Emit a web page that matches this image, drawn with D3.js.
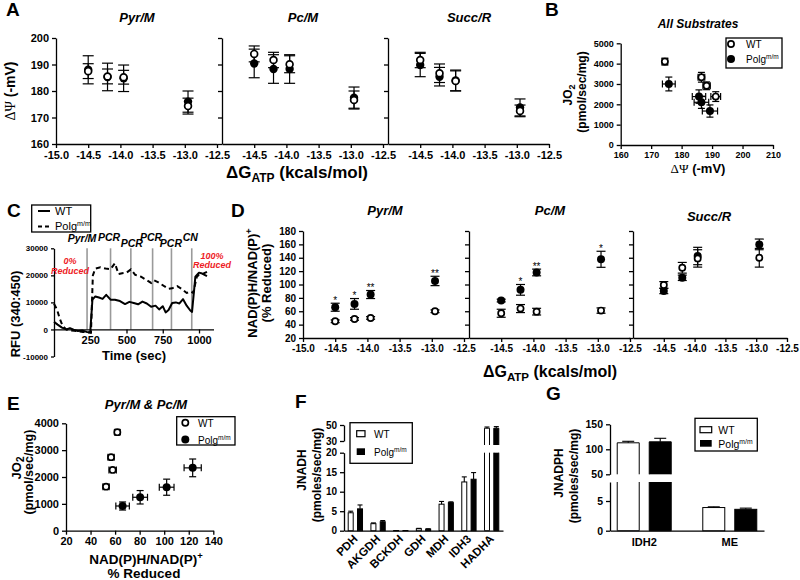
<!DOCTYPE html>
<html><head><meta charset="utf-8">
<script src="https://cdn.jsdelivr.net/npm/d3@7"></script>
<style>body{margin:0;background:#fff}</style>
</head><body>
<script>
// ================= DATA =================
// Panel A
const dGatp = [-14.5, -14.2, -13.95, -12.95];
const substrates = ["Pyr/M", "Pc/M", "Succ/R"];
const aTicksX = [-15, -14.5, -14, -13.5, -13, -12.5];
const aTicksY = [160, 170, 180, 190, 200];
const psiWT = [[187.5,185.5,185.2,174.3],[194,191.7,190.1,176.6],[191.7,186.7,183.8,172.5]];
const psiWTerr = [[2.8,2.8,2.6,3],[3,2.9,3.2,3.4],[2.9,3.5,3.8,2.2]];
const psiPolg = [[188,185.3,184.8,176],[190.4,188.3,188.3,177.5],[189.8,185.4,184,173.8]];
const psiPolgErr = [[5.3,5.2,5,4],[5.4,5.4,5.4,4],[4.4,3.5,3.9,3.2]];
// Panel B
const bTicksX = [160,170,180,190,200,210];
const bTicksY = [0,1000,2000,3000,4000,5000];
const bWTpsi = [174.5,186.5,188.2,191.2];
const bWTpsiErr = [0.9,1.1,1.2,1.6];
const bWTjo2 = [4100,3330,2910,2380];
const bWTjo2Err = [170,240,190,240];
const bPolgPsi = [175.8,185.7,186.5,189.3];
const bPolgPsiErr = [2.1,2.2,2.4,2.5];
const bPolgJo2 = [3000,2380,2100,1670];
const bPolgJo2Err = [340,330,300,300];
// Panel C
const cTicksX = [250,500,750,1000];
const cTicksY = [-10000,0,10000,20000,30000];
const cEvents = [228,390,530,680,810,950];
const cEventLabels = ["Pyr/M","PCR","PCR","PCR","PCR","CN"];
const cTimeWT = [0,25,55,85,110,135,165,195,225,250,265,285,310,335,360,390,420,455,490,520,550,580,610,640,670,700,725,750,770,790,815,840,865,890,915,940,952,975,1000,1015,1055];
const cRfuWT  = [2800,1800,700,0,500,-100,-600,-400,-900,-1000,11000,12200,11800,11300,12800,11000,11000,10500,9400,10200,9800,9300,10300,9600,8400,8800,7400,8600,6300,7200,9800,10000,9600,11200,8800,7000,6500,19500,21000,20800,19700];
const cTimePolg = [0,20,40,60,85,110,140,170,200,230,255,268,285,320,355,390,420,445,470,500,530,560,600,640,670,690,720,760,790,815,850,880,915,945,960,985,1000,1015,1055];
const cRfuPolg  = [9500,7500,4000,1200,0,-300,-500,-700,-900,-1100,-1200,20000,22500,23000,22500,22300,24500,20500,20800,21000,22200,20200,19500,18200,17200,18200,17400,16000,15000,15200,16000,15000,13500,14000,13500,19500,20200,20300,21300];
// Panel D
const dTicksY = [20,40,60,80,100,120,140,160,180];
const nadWT = [[45,48.5,50,60],[57,64,59.4,61],[99.3,125,139,140]];
const nadWTerr = [[2,2,2,2],[6,6,5,4],[5,8,13,14]];
const nadPolg = [[66,71,85,105.3],[76,92,118,137.7],[90.3,110,142.6,160]];
const nadPolgErr = [[6,8,6,7],[2,8,5,12],[4,4,13,8]];
const nadStars = [["*","*","**","**"],["","*","**","*"],["","","",""]];
// Panel E
const eTicksX = [20,40,60,80,100,120,140];
const eTicksY = [0,1000,2000,3000,4000];
const eWTnad = [52.6,58,56.7,61.8];
const eWTnadErr = [2.5,3,2.5,2];
const eWTjo2 = [1640,2265,2740,3670];
const eWTjo2Err = [60,60,70,90];
const ePolgNad = [66.1,80.4,102,123.2];
const ePolgNadErr = [5.5,6,6,7];
const ePolgJo2 = [920,1245,1620,2340];
const ePolgJo2Err = [150,250,300,330];
// Panel F
const fCats = ["PDH","AKGDH","BCKDH","GDH","MDH","IDH3","HADHA"];
const fWT = [4.6,1.8,0.05,0.5,6.8,12.5,46];
const fWTerr = [0.4,0.2,0,0.1,0.7,1.3,1.5];
const fPolg = [5.6,2.3,0.05,0.4,7.2,13.2,46];
const fPolgErr = [1.0,0.3,0,0.1,0.2,1.7,2];
const fTicksLow = [0,5,10,15,20];
const fTicksHigh = [30,50];
// Panel G
const gCats = ["IDH2","ME"];
const gWT = [113,3.9];
const gWTerr = [3,0.12];
const gPolg = [115,3.6];
const gPolgErr = [7,0.2];
const gTicksLow = [0,5];
const gTicksHigh = [50,100,150];

// ================= HELPERS =================
const FONT = "'Liberation Sans', Arial, Helvetica, sans-serif";
const plain = d => String(d);
const svg = d3.select("body").append("svg").attr("width",800).attr("height",580).attr("font-family",FONT);
svg.append("rect").attr("width",800).attr("height",580).attr("fill","#fff");

function styleAxis(g, size){
  g.attr("font-family",FONT).attr("font-size",size).attr("font-weight","bold");
  g.selectAll("path,line").attr("stroke","#000").attr("stroke-width",1.3);
  g.selectAll("text").attr("fill","#000");
  return g;
}
function rich(x, y, parts, o={}){
  const t = svg.append("text").attr("x",x).attr("y",y)
    .attr("font-size",o.size||12).attr("font-weight",o.weight||"bold")
    .attr("font-style",o.style||"normal").attr("text-anchor",o.anchor||"middle")
    .attr("fill",o.fill||"#000").attr("font-family",FONT);
  if(o.rotate) t.attr("transform",`rotate(${o.rotate},${x},${y})`);
  let shift = 0;
  parts.forEach(p=>{
    const s = t.append("tspan").text(p.t);
    let target = p.sub ? p.sub : (p.sup ? -p.sup : 0);
    s.attr("dy", target - shift); shift = target;
    if(p.size) s.attr("font-size",p.size);
    if(p.family) s.attr("font-family",p.family);
    if(p.weight) s.attr("font-weight",p.weight);
  });
  return t;
}
function ln(x1,y1,x2,y2,w=1.2,col="#000"){
  svg.append("line").attr("x1",x1).attr("y1",y1).attr("x2",x2).attr("y2",y2).attr("stroke",col).attr("stroke-width",w);
}
function vErr(cx,yTop,yBot,cap){ ln(cx,yTop,cx,yBot); ln(cx-cap,yTop,cx+cap,yTop); ln(cx-cap,yBot,cx+cap,yBot); }
function hErr(cy,xL,xR,cap){ ln(xL,cy,xR,cy); ln(xL,cy-cap,xL,cy+cap); ln(xR,cy-cap,xR,cy+cap); }
function dot(cx,cy,filled,r){
  svg.append("circle").attr("cx",cx).attr("cy",cy).attr("r",filled?r+0.7:r)
    .attr("fill",filled?"#000":"#fff").attr("stroke","#000").attr("stroke-width",filled?0:1.7);
}
function panelLabel(x,y,s){ rich(x,y,[{t:s}],{size:19,anchor:"start"}); }
function box(x0,y0,x1,y1){ svg.append("rect").attr("x",x0).attr("y",y0).attr("width",x1-x0).attr("height",y1-y0).attr("fill","#fff").attr("stroke","#000").attr("stroke-width",1.3); }
const polgParts = (sz)=>[{t:"Polg"},{t:"m/m",sup:4,size:sz*0.65}];

// ================= PANEL A =================
panelLabel(6,16,"A");
const aRanges = [[56,217],[222,383],[388,549]];
const aTitleX = [137,303,469];
const ay = d3.scaleLinear().domain([160,200]).range([144,38]);
substrates.forEach((s,i)=>{
  const ax = d3.scaleLinear().domain([-15,-12.5]).range(aRanges[i]);
  styleAxis(svg.append("g").attr("transform","translate(0,144)")
    .call(d3.axisBottom(ax).tickValues(i===0?aTicksX:aTicksX.slice(1)).tickSize(4).tickSizeOuter(0).tickFormat(d=>d.toFixed(1))), 11);
  styleAxis(svg.append("g").attr("transform",`translate(${aRanges[i][0]},0)`)
    .call(d3.axisLeft(ay).tickValues(aTicksY).tickSize(4).tickSizeOuter(0).tickFormat(i===0?plain:(()=>""))), 11);
  rich(aTitleX[i],22,[{t:s}],{size:13,style:"italic"});
  dGatp.forEach((g,j)=>{
    const cx = ax(g);
    vErr(cx, ay(psiPolg[i][j]+psiPolgErr[i][j]), ay(psiPolg[i][j]-psiPolgErr[i][j]), 5.5);
    vErr(cx, ay(psiWT[i][j]+psiWTerr[i][j]), ay(psiWT[i][j]-psiWTerr[i][j]), 5.5);
  });
  dGatp.forEach((g,j)=> dot(ax(g), ay(psiPolg[i][j]), true, 3.5));
  dGatp.forEach((g,j)=> dot(ax(g), ay(psiWT[i][j]), false, 3.4));
});
rich(15,91,[{t:"ΔΨ",family:"'Liberation Serif','DejaVu Serif',serif",weight:"normal"},{t:" (-mV)"}],{size:14,rotate:-90});
rich(297,178,[{t:"ΔG"},{t:"ATP",sub:4,size:12},{t:" (kcals/mol)"}],{size:17});

// ================= PANEL B =================
panelLabel(545,16,"B");
const bx = d3.scaleLinear().domain([160,210]).range([620.7,773]);
const by = d3.scaleLinear().domain([0,5000]).range([145,43.3]);
styleAxis(svg.append("g").attr("transform","translate(0,145)")
  .call(d3.axisBottom(bx).tickValues(bTicksX).tickSize(4).tickSizeOuter(0).tickFormat(plain)), 9);
styleAxis(svg.append("g").attr("transform","translate(620.7,0)")
  .call(d3.axisLeft(by).tickValues(bTicksY).tickSize(4).tickSizeOuter(0).tickFormat(plain)), 9);
rich(698,28,[{t:"All Substrates"}],{size:12,style:"italic"});
bWTpsi.forEach((v,j)=>{
  vErr(bx(v), by(bWTjo2[j]+bWTjo2Err[j]), by(bWTjo2[j]-bWTjo2Err[j]), 3.5);
  hErr(by(bWTjo2[j]), bx(v-bWTpsiErr[j]), bx(v+bWTpsiErr[j]), 3.5);
});
bPolgPsi.forEach((v,j)=>{
  vErr(bx(v), by(bPolgJo2[j]+bPolgJo2Err[j]), by(bPolgJo2[j]-bPolgJo2Err[j]), 3.5);
  hErr(by(bPolgJo2[j]), bx(v-bPolgPsiErr[j]), bx(v+bPolgPsiErr[j]), 3.5);
});
bPolgPsi.forEach((v,j)=> dot(bx(v), by(bPolgJo2[j]), true, 3.3));
bWTpsi.forEach((v,j)=> dot(bx(v), by(bWTjo2[j]), false, 3.1));
rich(572,95,[{t:"JO"},{t:"2",sub:3,size:9}],{size:12,rotate:-90});
rich(586,92,[{t:"(pmol/sec/mg)"}],{size:12,rotate:-90});
rich(698,173,[{t:"ΔΨ",family:"'Liberation Serif','DejaVu Serif',serif",weight:"normal"},{t:" (-mV)"}],{size:13});
box(726,38,782,68);
dot(731,44,false,3.1); rich(746,48,[{t:"WT"}],{size:10,weight:"normal",anchor:"start"});
dot(731,59,true,3.3); rich(746,63,polgParts(10),{size:10,weight:"normal",anchor:"start"});

// ================= PANEL C =================
panelLabel(7,217,"C");
const cx = d3.scaleLinear().domain([0,1100]).range([54,213.5]);
const cy = d3.scaleLinear().domain([-10000,30000]).range([356.5,248.3]);
cEvents.forEach(t=> ln(cx(t), cy(30000), cx(t), cy(0), 1.6, "#9a9a9a"));
styleAxis(svg.append("g").attr("transform",`translate(0,${cy(0)})`)
  .call(d3.axisBottom(cx).tickValues(cTicksX).tickSize(4).tickSizeOuter(0).tickFormat(plain)), 11);
styleAxis(svg.append("g").attr("transform","translate(54,0)")
  .call(d3.axisLeft(cy).tickValues(cTicksY).tickSize(3).tickSizeOuter(0).tickFormat(plain)), 8);
const cLine = d3.line().x(d=>cx(d[0])).y(d=>cy(d[1]));
svg.append("path").datum(cTimeWT.map((t,i)=>[t,cRfuWT[i]])).attr("d",cLine)
  .attr("fill","none").attr("stroke","#000").attr("stroke-width",2).attr("stroke-linejoin","round");
svg.append("path").datum(cTimePolg.map((t,i)=>[t,cRfuPolg[i]])).attr("d",cLine)
  .attr("fill","none").attr("stroke","#000").attr("stroke-width",2).attr("stroke-dasharray","5,3.5");
const cLabOff = [-5,-1.5,1,-1.5,-0.5,-1.5];
const cLabY = [242,240.5,247,240.5,247,240.5];
cEvents.forEach((t,i)=> rich(cx(t)+cLabOff[i], cLabY[i], [{t:cEventLabels[i]}], {size:10.5,style:"italic"}));
rich(70,264,[{t:"0%"}],{size:9,style:"italic",fill:"#ee1c25"});
rich(70,274,[{t:"Reduced"}],{size:9,style:"italic",fill:"#ee1c25"});
rich(212,259,[{t:"100%"}],{size:9,style:"italic",fill:"#ee1c25"});
rich(212,268,[{t:"Reduced"}],{size:9,style:"italic",fill:"#ee1c25"});
rich(20,314,[{t:"RFU (340:450)"}],{size:13,rotate:-90});
rich(134,360,[{t:"Time (sec)"}],{size:13});
box(31.7,205,90.7,232);
ln(38,211,50,211,2);
rich(55,215,[{t:"WT"}],{size:11,weight:"normal",anchor:"start"});
svg.append("line").attr("x1",38).attr("y1",226.5).attr("x2",50).attr("y2",226.5).attr("stroke","#000").attr("stroke-width",2).attr("stroke-dasharray","4,3");
rich(55,230,polgParts(11),{size:11,weight:"normal",anchor:"start"});

// ================= PANEL D =================
panelLabel(231,217,"D");
const dRanges = [[303,464],[469,630],[633,787]];
const dTitleX = [385,550,709];
const dTitleY = [215,215,221];
const dy = d3.scaleLinear().domain([20,180]).range([338,231]);
substrates.forEach((s,i)=>{
  const dx = d3.scaleLinear().domain([-15,-12.5]).range(dRanges[i]);
  styleAxis(svg.append("g").attr("transform","translate(0,338)")
    .call(d3.axisBottom(dx).tickValues(i===0?aTicksX:aTicksX.slice(1)).tickSize(4).tickSizeOuter(0).tickFormat(d=>d.toFixed(1))), 10);
  styleAxis(svg.append("g").attr("transform",`translate(${dRanges[i][0]},0)`)
    .call(d3.axisLeft(dy).tickValues(dTicksY).tickSize(4).tickSizeOuter(0).tickFormat(i===0?plain:(()=>""))), 10);
  rich(dTitleX[i],dTitleY[i],[{t:s}],{size:13,style:"italic"});
  dGatp.forEach((g,j)=>{
    const px = dx(g);
    vErr(px, dy(nadPolg[i][j]+nadPolgErr[i][j]), dy(nadPolg[i][j]-nadPolgErr[i][j]), 4.5);
    vErr(px, dy(nadWT[i][j]+nadWTerr[i][j]), dy(nadWT[i][j]-nadWTerr[i][j]), 4.5);
    if(nadStars[i][j]) rich(px, dy(nadPolg[i][j]+nadPolgErr[i][j])+0.5, [{t:nadStars[i][j]}], {size:10,weight:"normal"});
  });
  dGatp.forEach((g,j)=> dot(dx(g), dy(nadPolg[i][j]), true, 3.3));
  dGatp.forEach((g,j)=> dot(dx(g), dy(nadWT[i][j]), false, 3.1));
});
rich(257,283,[{t:"NAD(P)H/NAD(P)"},{t:"+",sup:5,size:9}],{size:13,rotate:-90});
rich(271,283,[{t:"(% Reduced)"}],{size:13,rotate:-90});
rich(550,377,[{t:"ΔG"},{t:"ATP",sub:4,size:11.5},{t:" (kcals/mol)"}],{size:16});

// ================= PANEL E =================
panelLabel(7,410,"E");
const ex = d3.scaleLinear().domain([20,140]).range([66,213.3]);
const ey = d3.scaleLinear().domain([0,4000]).range([530.7,423.3]);
styleAxis(svg.append("g").attr("transform","translate(0,530.7)")
  .call(d3.axisBottom(ex).tickValues(eTicksX).tickSize(4).tickSizeOuter(0).tickFormat(plain)), 11);
styleAxis(svg.append("g").attr("transform","translate(66,0)")
  .call(d3.axisLeft(ey).tickValues(eTicksY).tickSize(4).tickSizeOuter(0).tickFormat(plain)), 11);
rich(146,409,[{t:"Pyr/M & Pc/M"}],{size:13,style:"italic"});
eWTnad.forEach((v,j)=>{
  vErr(ex(v), ey(eWTjo2[j]+eWTjo2Err[j]), ey(eWTjo2[j]-eWTjo2Err[j]), 3.5);
  hErr(ey(eWTjo2[j]), ex(v-eWTnadErr[j]), ex(v+eWTnadErr[j]), 3.5);
});
ePolgNad.forEach((v,j)=>{
  vErr(ex(v), ey(ePolgJo2[j]+ePolgJo2Err[j]), ey(ePolgJo2[j]-ePolgJo2Err[j]), 3.5);
  hErr(ey(ePolgJo2[j]), ex(v-ePolgNadErr[j]), ex(v+ePolgNadErr[j]), 3.5);
});
ePolgNad.forEach((v,j)=> dot(ex(v), ey(ePolgJo2[j]), true, 3.3));
eWTnad.forEach((v,j)=> dot(ex(v), ey(eWTjo2[j]), false, 3.1));
rich(21,468,[{t:"JO"},{t:"2",sub:3,size:10}],{size:13,rotate:-90});
rich(33,472,[{t:"(pmol/sec/mg)"}],{size:12.5,rotate:-90});
rich(146,564,[{t:"NAD(P)H/NAD(P)"},{t:"+",sup:5,size:9.5}],{size:13.5});
rich(144,578,[{t:"% Reduced"}],{size:13.5});
box(176.7,416.7,235,445);
dot(185.3,422.8,false,3.1); rich(198,427,[{t:"WT"}],{size:10,weight:"normal",anchor:"start"});
dot(185.3,439.5,true,3.3); rich(198,443.5,polgParts(10),{size:10,weight:"normal",anchor:"start"});

// ================= PANEL F =================
panelLabel(295,408,"F");
const fx = d3.scaleBand().domain(fCats).range([344,503]).paddingInner(0).paddingOuter(0);
const fyL = d3.scaleLinear().domain([0,20]).range([530.7,452.7]);
const fyU = d3.scaleLinear().domain([30,50]).range([441,425]);
const fBreakBottomU = 445;
styleAxis(svg.append("g").attr("transform","translate(344,0)")
  .call(d3.axisLeft(fyL).tickValues(fTicksLow).tickSize(4).tickSizeOuter(0)), 10);
styleAxis(svg.append("g").attr("transform","translate(344,0)")
  .call(d3.axisLeft(fyU).tickValues(fTicksHigh).tickSize(4).tickSizeOuter(0)), 10);
const fxAxis = styleAxis(svg.append("g").attr("transform","translate(0,530.7)")
  .call(d3.axisBottom(fx).tickSize(0).tickSizeOuter(0)), 11.5);
fxAxis.selectAll("text").attr("text-anchor","end").attr("dy",null).attr("y",0)
  .attr("transform","translate(3,9) rotate(-45)");
function brokenBar(x0,w,v,filled,yL,yU,lowMax,highMin,upBottom){
  const col = filled?"#000":"#fff";
  if(v<=lowMax){
    svg.append("rect").attr("x",x0).attr("y",yL(v)).attr("width",w).attr("height",Math.max(0.3,yL(0)-yL(v)))
      .attr("fill",col).attr("stroke","#000").attr("stroke-width",1);
  } else {
    svg.append("path").attr("d",`M${x0},${yL(lowMax)}V${yL(0)}H${x0+w}V${yL(lowMax)}`).attr("fill",col).attr("stroke","#000").attr("stroke-width",1);
    svg.append("path").attr("d",`M${x0},${upBottom}V${yU(v)}H${x0+w}V${upBottom}`).attr("fill",col).attr("stroke","#000").attr("stroke-width",1);
  }
}
function barErr(cx,v,e,yL,yU,lowMax,cap){
  if(!e) return;
  const s = v<=lowMax?yL:yU;
  ln(cx,s(v),cx,s(v+e),1.1); ln(cx-cap,s(v+e),cx+cap,s(v+e),1.1);
}
fCats.forEach((c,i)=>{
  const bw = fx.bandwidth(), cc = fx(c)+bw/2;
  const w = bw*0.22, g = bw*0.095;
  brokenBar(cc-g-w,w,fWT[i],false,fyL,fyU,20,30,fBreakBottomU);
  brokenBar(cc+g,w,fPolg[i],true,fyL,fyU,20,30,fBreakBottomU);
  barErr(cc-g-w/2,fWT[i],fWTerr[i],fyL,fyU,20,w/2);
  barErr(cc+g+w/2,fPolg[i],fPolgErr[i],fyL,fyU,20,w/2);
});
rich(306,470,[{t:"J"},{t:"NADH"}],{size:12,rotate:-90});
rich(321,475,[{t:"(pmoles/sec/mg)"}],{size:12,rotate:-90});
box(350,422.7,412.3,463.3);
svg.append("rect").attr("x",356.7).attr("y",430.7).attr("width",8.3).attr("height",6).attr("fill","#fff").attr("stroke","#000").attr("stroke-width",1.2);
rich(374,438,[{t:"WT"}],{size:10,weight:"normal",anchor:"start"});
svg.append("rect").attr("x",356.7).attr("y",448.3).attr("width",8.3).attr("height",6.7).attr("fill","#000");
rich(374,456,polgParts(10),{size:10,weight:"normal",anchor:"start"});

// ================= PANEL G =================
panelLabel(546,400,"G");
const gx = d3.scaleBand().domain(gCats).range([610,764]).paddingInner(0.2).paddingOuter(0);
const gyL = d3.scaleLinear().domain([0,8.2]).range([530.7,482]);
const gyU = d3.scaleLinear().domain([50,150]).range([474.3,424.3]);
styleAxis(svg.append("g").attr("transform","translate(610,0)")
  .call(d3.axisLeft(gyL).tickValues(gTicksLow).tickSize(4).tickSizeOuter(0)), 10.5);
styleAxis(svg.append("g").attr("transform","translate(610,0)")
  .call(d3.axisLeft(gyU).tickValues(gTicksHigh).tickSize(4).tickSizeOuter(0)), 10.5);
styleAxis(svg.append("g").attr("transform","translate(0,530.7)")
  .call(d3.axisBottom(gx).tickSize(0).tickSizeOuter(0).tickPadding(8)), 11);
gCats.forEach((c,i)=>{
  const bw = gx.bandwidth(), cc = gx(c)+bw/2;
  const w = 22, g = 5;
  brokenBar(cc-g-w,w,gWT[i],false,gyL,gyU,8.2,50,474.3);
  brokenBar(cc+g,w,gPolg[i],true,gyL,gyU,8.2,50,474.3);
  barErr(cc-g-w/2,gWT[i],gWTerr[i],gyL,gyU,8.2,6);
  barErr(cc+g+w/2,gPolg[i],gPolgErr[i],gyL,gyU,8.2,6);
});
rich(563,473,[{t:"J"},{t:"NADPH"}],{size:12,rotate:-90});
rich(578,476,[{t:"(pmoles/sec/mg)"}],{size:12,rotate:-90});
box(695,418.3,757.3,451);
svg.append("rect").attr("x",700).attr("y",426.7).attr("width",11.7).attr("height",6).attr("fill","#fff").attr("stroke","#000").attr("stroke-width",1.2);
rich(718.3,434,[{t:"WT"}],{size:10.5,weight:"normal",anchor:"start"});
svg.append("rect").attr("x",700).attr("y",440).attr("width",11.7).attr("height",6.7).attr("fill","#000");
rich(718.3,447.5,polgParts(10.5),{size:10.5,weight:"normal",anchor:"start"});
</script>
</body></html>
